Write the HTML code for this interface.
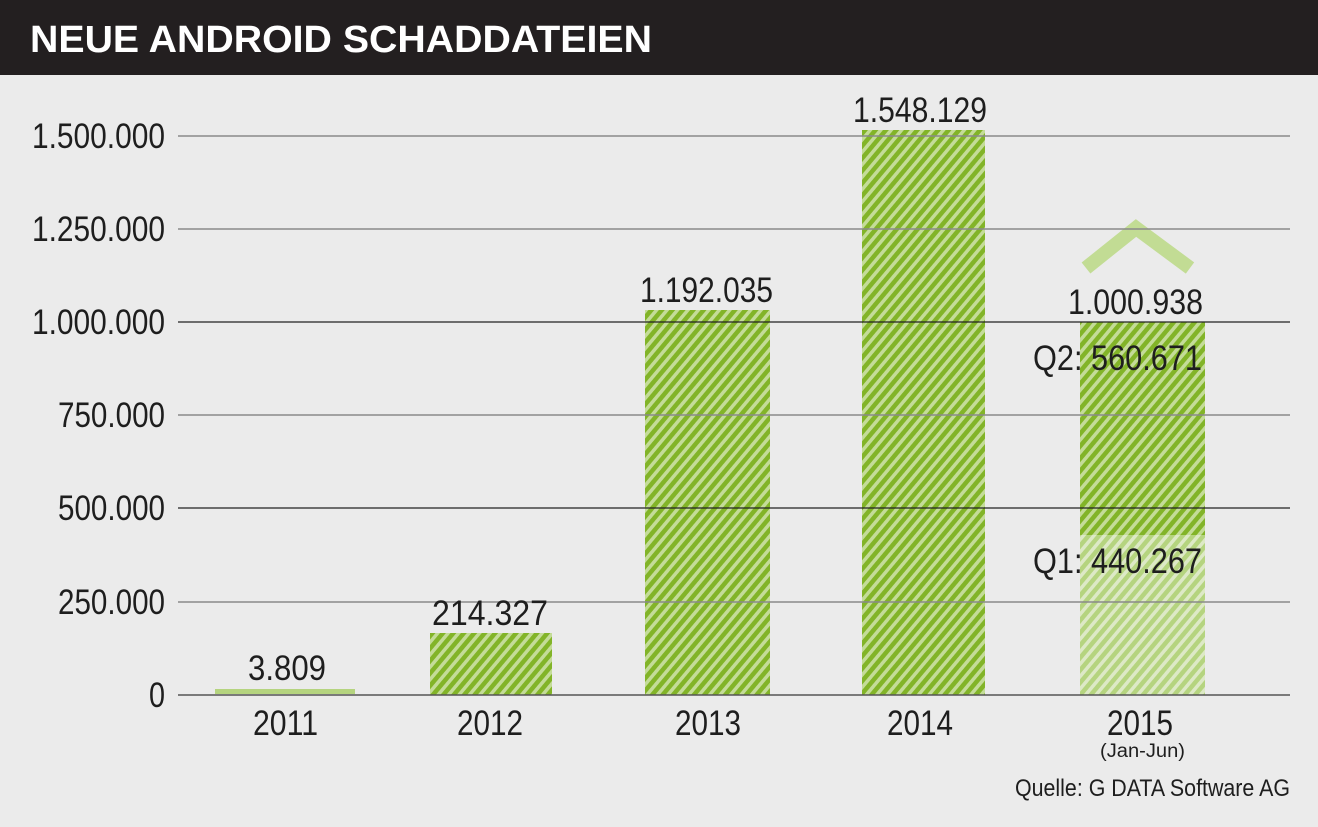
<!DOCTYPE html>
<html><head><meta charset="utf-8"><style>
html,body{margin:0;padding:0;background:#ebebeb;}
svg{display:block}
text{font-family:"Liberation Sans Narrow","Liberation Sans",sans-serif;fill:#1e1e1e}
</style></head><body>
<svg width="1318" height="827" viewBox="0 0 1318 827" xmlns="http://www.w3.org/2000/svg">
<defs>
<pattern id="h" width="8" height="8" patternUnits="userSpaceOnUse" patternTransform="rotate(40)">
<rect width="8" height="8" fill="#c4dc98"/>
<rect width="4.5" height="8" fill="#82b428"/>
</pattern>
<pattern id="l" width="8" height="8" patternUnits="userSpaceOnUse" patternTransform="rotate(40)">
<rect width="8" height="8" fill="#dde9c6"/>
<rect width="4.5" height="8" fill="#b5d47f"/>
</pattern>
</defs>
<rect width="1318" height="827" fill="#ebebeb"/>
<rect width="1318" height="75" fill="#231f20"/>
<text x="30" y="52" style="fill:#fff;font-weight:bold;font-size:38px" textLength="622" lengthAdjust="spacingAndGlyphs">NEUE ANDROID SCHADDATEIEN</text>
<rect x="215" y="689" width="140" height="5" fill="#b5d47f"/>
<rect x="430" y="633" width="122" height="62" fill="url(#h)"/>
<rect x="645" y="310" width="125" height="385" fill="url(#h)"/>
<rect x="862" y="130" width="123" height="565" fill="url(#h)"/>
<rect x="1080" y="535" width="125" height="160" fill="url(#l)"/>
<rect x="1080" y="322" width="125" height="213" fill="url(#h)"/>
<polyline points="1086,268 1136,228 1190,268" fill="none" stroke="#c2dc94" stroke-width="14"/>
<g stroke="#8a8a8a" stroke-width="1.5">
<line x1="178" y1="136" x2="1290" y2="136"/>
<line x1="178" y1="229" x2="1290" y2="229"/>
<line x1="178" y1="415" x2="1290" y2="415"/>
<line x1="178" y1="602" x2="1290" y2="602"/>
</g>
<line x1="178" y1="508" x2="1290" y2="508" stroke="#222" stroke-width="1.2"/>
<line x1="178" y1="322" x2="1290" y2="322" stroke="#222" stroke-width="1.2"/>
<line x1="178" y1="695" x2="1290" y2="695" stroke="#555" stroke-width="1.5"/>
<g font-size="35">
<text x="32" y="148" textLength="133" lengthAdjust="spacingAndGlyphs">1.500.000</text>
<text x="32" y="241" textLength="133" lengthAdjust="spacingAndGlyphs">1.250.000</text>
<text x="32" y="334" textLength="133" lengthAdjust="spacingAndGlyphs">1.000.000</text>
<text x="58" y="427" textLength="107" lengthAdjust="spacingAndGlyphs">750.000</text>
<text x="58" y="520" textLength="107" lengthAdjust="spacingAndGlyphs">500.000</text>
<text x="58" y="614" textLength="107" lengthAdjust="spacingAndGlyphs">250.000</text>
<text x="149" y="707" textLength="16" lengthAdjust="spacingAndGlyphs">0</text>
<text x="248" y="680" textLength="78" lengthAdjust="spacingAndGlyphs">3.809</text>
<text x="432" y="625" textLength="116" lengthAdjust="spacingAndGlyphs">214.327</text>
<text x="640" y="302" textLength="133" lengthAdjust="spacingAndGlyphs">1.192.035</text>
<text x="853" y="122" textLength="134" lengthAdjust="spacingAndGlyphs">1.548.129</text>
<text x="1068" y="314" textLength="135" lengthAdjust="spacingAndGlyphs">1.000.938</text>
<text x="1033" y="370" textLength="169" lengthAdjust="spacingAndGlyphs">Q2: 560.671</text>
<text x="1033" y="573" textLength="169" lengthAdjust="spacingAndGlyphs">Q1: 440.267</text>
<text x="253" y="735" textLength="65" lengthAdjust="spacingAndGlyphs">2011</text>
<text x="457" y="735" textLength="66" lengthAdjust="spacingAndGlyphs">2012</text>
<text x="675" y="735" textLength="66" lengthAdjust="spacingAndGlyphs">2013</text>
<text x="887" y="735" textLength="66" lengthAdjust="spacingAndGlyphs">2014</text>
<text x="1107" y="735" textLength="66" lengthAdjust="spacingAndGlyphs">2015</text>
</g>
<text x="1100" y="757" font-size="19" textLength="85" lengthAdjust="spacingAndGlyphs">(Jan-Jun)</text>
<text x="1015" y="796" font-size="24" textLength="275" lengthAdjust="spacingAndGlyphs">Quelle: G DATA Software AG</text>
</svg>
</body></html>
